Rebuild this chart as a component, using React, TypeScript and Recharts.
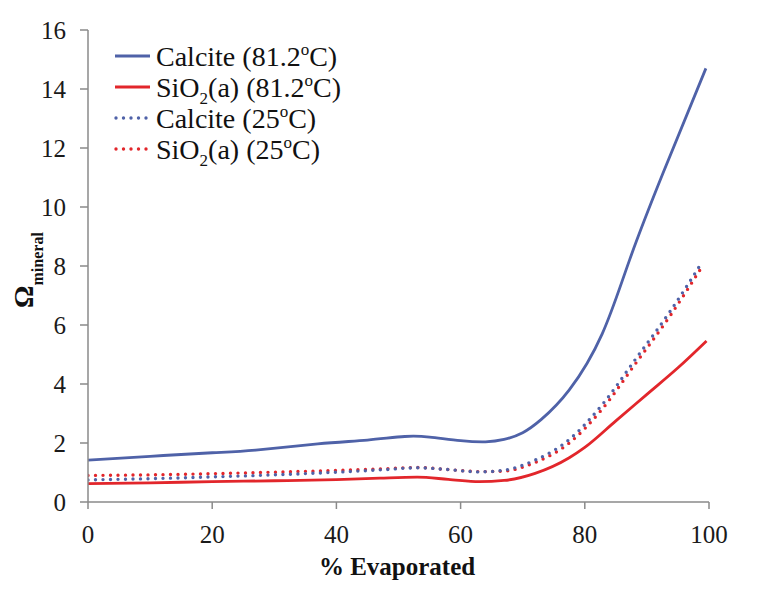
import React from 'react';
import { LineChart, Line, XAxis, YAxis, Customized } from 'recharts';

// % evaporated positions for each curve
const evap81Calcite = [0, 10, 20, 27, 37, 45, 51, 55, 60, 64, 67, 70, 73, 77.5, 82.8, 87.2, 92.6, 99.5];
const calcite81 = [1.42, 1.55, 1.67, 1.76, 1.97, 2.1, 2.22, 2.2, 2.08, 2.04, 2.12, 2.35, 2.8, 3.8, 5.7, 8.2, 11.15, 14.7];

const evap81SiO2 = [0, 10, 20, 30, 40, 47, 53, 58, 63, 67, 72, 77.5, 80, 85, 90, 95, 99.6];
const sio281 = [0.62, 0.65, 0.69, 0.72, 0.76, 0.81, 0.84, 0.77, 0.69, 0.73, 0.97, 1.5, 1.85, 2.75, 3.65, 4.55, 5.46];

const evap25 = [0, 10, 20, 30, 40, 48, 53, 58, 63, 67, 72, 77.5, 82.8, 88.2, 93.7, 98.8];
const calcite25 = [0.75, 0.79, 0.85, 0.92, 1.01, 1.1, 1.16, 1.1, 1.02, 1.08, 1.42, 2.12, 3.3, 4.85, 6.45, 8.1];
const sio225 = [0.9, 0.92, 0.96, 1.01, 1.07, 1.13, 1.17, 1.1, 1.03, 1.05, 1.34, 2.0, 3.15, 4.7, 6.3, 7.95];

const xTicks = [0, 20, 40, 60, 80, 100];
const yTicks = [0, 2, 4, 6, 8, 10, 12, 14, 16];

const zip = (xs: number[], ys: number[]) => xs.map((x, i) => ({ x, y: ys[i] }));

const BLUE = '#4F62A8';
const RED = '#E2262B';
const AXIS = '#8a8a8a';
const FONT = 'Liberation Serif';

const CSS = `
div#root .chart-box svg text, div#root .chart-box svg tspan,
div#root .chart-box .recharts-wrapper svg text, div#root .chart-box .recharts-wrapper svg tspan {
  font-family: "Liberation Serif" !important;
}
`;

const Overlay = () => {
  const rows = [
    { color: BLUE, dotted: false, temp: '81.2', sub: false },
    { color: RED, dotted: false, temp: '81.2', sub: true },
    { color: BLUE, dotted: true, temp: '25', sub: false },
    { color: RED, dotted: true, temp: '25', sub: true },
  ];
  const baselines = [58, 89, 120, 151];
  return (
    <g>
      {rows.map((r, i) => {
        const b = baselines[i];
        const ly = b - 10;
        return (
          <g key={i}>
            <line
              x1={r.dotted ? 108 : 107}
              x2={142}
              y1={ly}
              y2={ly}
              stroke={r.color}
              strokeWidth={r.dotted ? 3.4 : 2.8}
              strokeDasharray={r.dotted ? '0 7.5' : undefined}
              strokeLinecap={r.dotted ? 'round' : 'butt'}
            />
            <text x={148} y={b} fontSize={28} fill="#111" fontFamily={FONT}>
              {r.sub ? (
                <>
                  <tspan>SiO</tspan>
                  <tspan fontSize={17} dy={7}>2</tspan>
                  <tspan dy={-7}>(a) ({r.temp}</tspan>
                </>
              ) : (
                <tspan>Calcite ({r.temp}</tspan>
              )}
              <tspan fontSize={17} dy={-11}>o</tspan>
              <tspan dy={11}>C)</tspan>
            </text>
          </g>
        );
      })}
      <text
        x={389}
        y={567}
        textAnchor="middle"
        fontSize={25}
        fontWeight="bold"
        fill="#111"
        fontFamily={FONT}
      >
        % Evaporated
      </text>
      <text
        x={25}
        y={262}
        transform="rotate(-90, 25, 262)"
        textAnchor="middle"
        fontWeight="bold"
        fill="#111"
        fontFamily={FONT}
      >
        <tspan fontSize={28}>Ω</tspan>
        <tspan fontSize={16} dy={10}>mineral</tspan>
      </text>
    </g>
  );
};

export default function App() {
  const tickStyle = { fontSize: 25, fill: '#1a1a1a', fontFamily: FONT };
  return (
    <div className="chart-box" style={{ fontFamily: FONT }}>
      <style>{CSS}</style>
      <LineChart
        width={756}
        height={580}
        margin={{ top: 22, right: 55, left: 0, bottom: 26 }}
        style={{ fontFamily: FONT }}
      >
        <XAxis
          type="number"
          dataKey="x"
          domain={[0, 100]}
          ticks={xTicks}
          allowDataOverflow
          stroke={AXIS}
          strokeWidth={1.5}
          tickSize={7}
          tickMargin={16}
          tick={tickStyle}
          height={60}
          tickLine={{ stroke: AXIS, strokeWidth: 1.5 }}
        />
        <YAxis
          type="number"
          domain={[0, 16]}
          ticks={yTicks}
          allowDataOverflow
          stroke={AXIS}
          strokeWidth={1.5}
          tickSize={8}
          tickMargin={14}
          tick={tickStyle}
          width={80}
          tickLine={{ stroke: AXIS, strokeWidth: 1.5 }}
        />
        <Line
          data={zip(evap25, sio225)}
          dataKey="y"
          type="monotone"
          stroke={RED}
          strokeWidth={3.4}
          strokeDasharray="0 7.5"
          strokeLinecap="round"
          dot={false}
          isAnimationActive={false}
        />
        <Line
          data={zip(evap25, calcite25)}
          dataKey="y"
          type="monotone"
          stroke={BLUE}
          strokeWidth={3.4}
          strokeDasharray="0 7.5"
          strokeLinecap="round"
          dot={false}
          isAnimationActive={false}
        />
        <Line
          data={zip(evap81SiO2, sio281)}
          dataKey="y"
          type="monotone"
          stroke={RED}
          strokeWidth={2.8}
          dot={false}
          isAnimationActive={false}
        />
        <Line
          data={zip(evap81Calcite, calcite81)}
          dataKey="y"
          type="natural"
          stroke={BLUE}
          strokeWidth={2.8}
          dot={false}
          isAnimationActive={false}
        />
        <Customized component={Overlay} />
      </LineChart>
    </div>
  );
}
